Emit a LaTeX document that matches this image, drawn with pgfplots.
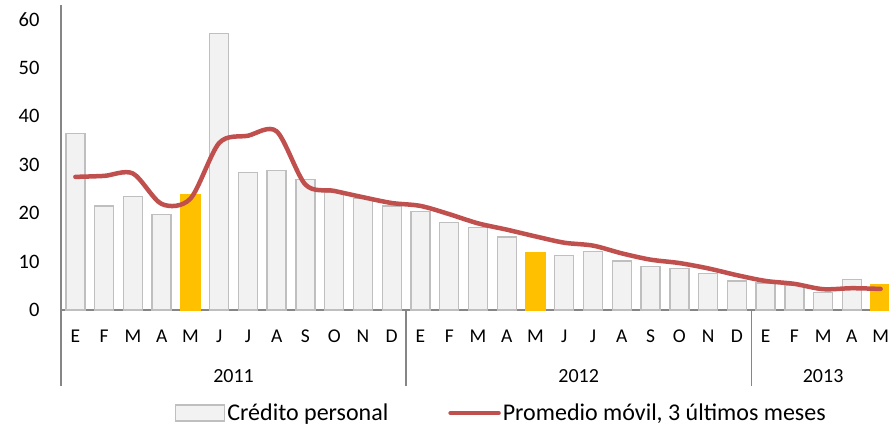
\documentclass[border=0pt]{standalone}
\usepackage{fontspec}
\setmainfont{Carlito}
\usepackage{pgfplots}
\usepackage{pgfplotstable}
\pgfplotsset{compat=1.18}

\definecolor{barfill}{HTML}{F2F2F2}
\definecolor{baredge}{HTML}{BFBFBF}
\definecolor{hilite}{HTML}{FFC000}
\definecolor{avgred}{HTML}{C0504D}
\definecolor{axisgray}{HTML}{868686}

% monthly series, Jan 2011 - May 2013
\pgfplotstableread{
x  credito avg
0  36.4  27.5
1  21.5  27.7
2  23.4  28.2
3  19.7  21.9
4  23.8  23.0
5  57.1  34.5
6  28.4  36.0
7  28.8  36.9
8  26.9  25.9
9  24.3  24.6
10 23.0  23.3
11 21.5  22.1
12 20.4  21.5
13 18.1  19.8
14 17.0  17.9
15 15.1  16.6
16 11.9  15.2
17 11.3  13.9
18 12.1  13.3
19 10.1  11.7
20  9.0  10.4
21  8.6   9.7
22  7.5   8.6
23  6.0   7.2
24  5.6   6.0
25  5.0   5.4
26  3.6   4.3
27  6.3   4.5
28  5.2   4.35
}\datos

% highlighted months (May)
\pgfplotstableread{
x  credito
4  23.8
16 11.9
28 5.2
}\mayos

\begin{document}
\begin{tikzpicture}
\begin{axis}[scale only axis, width=834pt, height=305pt,
  at={(61pt,116pt)}, anchor=south west,
  xmin=-0.5, xmax=28.5, ymin=0, ymax=63,
  axis x line*=bottom, axis y line*=left,
  axis line style={axisgray, line width=1.3pt},
  clip=false, major tick length=0pt,
  xtick={0,...,28},
  xticklabels={E,F,M,A,M,J,J,A,S,O,N,D,E,F,M,A,M,J,J,A,S,O,N,D,E,F,M,A,M},
  ytick={0,10,...,60},
  xticklabel style={anchor=base, yshift=-32pt, font=\fontsize{19.5}{20}\selectfont},
  yticklabel style={anchor=east, xshift=-18pt, font=\fontsize{20.5}{21}\selectfont},
  /pgf/number format/assume math mode=true,
  legend columns=2,
  legend style={at={(0.528,-0.338)}, anchor=center, draw=none,
    font=\fontsize{24}{25}\selectfont,
    /tikz/every even column/.append style={column sep=58pt}},
]
\addplot[ybar, bar width=19pt, bar shift=0pt, fill=barfill, draw=baredge, line width=1.4pt,
  legend image code/.code={\draw[fill=barfill, draw=baredge, line width=1.4pt] (0pt,-8pt) rectangle (49pt,8pt);}]
  table[x=x, y=credito]{\datos};
\addlegendentry{Crédito personal}
\addplot[ybar, bar width=19pt, bar shift=0pt, fill=hilite, draw=hilite, line width=1.4pt, forget plot]
  table[x=x, y=credito]{\mayos};
\addplot[avgred, line width=4.5pt, smooth, line cap=round, line join=round,
  legend image code/.code={\draw[avgred, line width=4.5pt] (0pt,0pt) -- (48pt,0pt);}]
  table[x=x, y=avg]{\datos};
\addlegendentry{Promedio móvil, 3 últimos meses}

\draw[axisgray, line width=1.3pt] (axis cs:-0.5,0) -- ++(0pt,-76pt);
\draw[axisgray, line width=1.3pt] (axis cs:11.5,0) -- ++(0pt,-76pt);
\draw[axisgray, line width=1.3pt] (axis cs:23.5,0) -- ++(0pt,-76pt);
\node[anchor=base, yshift=-72pt, font=\fontsize{20}{20}\selectfont] at (axis cs:5.5,0) {2011};
\node[anchor=base, yshift=-72pt, font=\fontsize{20}{20}\selectfont] at (axis cs:17.5,0) {2012};
\node[anchor=base, yshift=-72pt, font=\fontsize{20}{20}\selectfont] at (axis cs:26,0) {2013};
\end{axis}
\pgfresetboundingbox
\path (0pt,0pt) rectangle (889pt,426pt);
\end{tikzpicture}
\end{document}
